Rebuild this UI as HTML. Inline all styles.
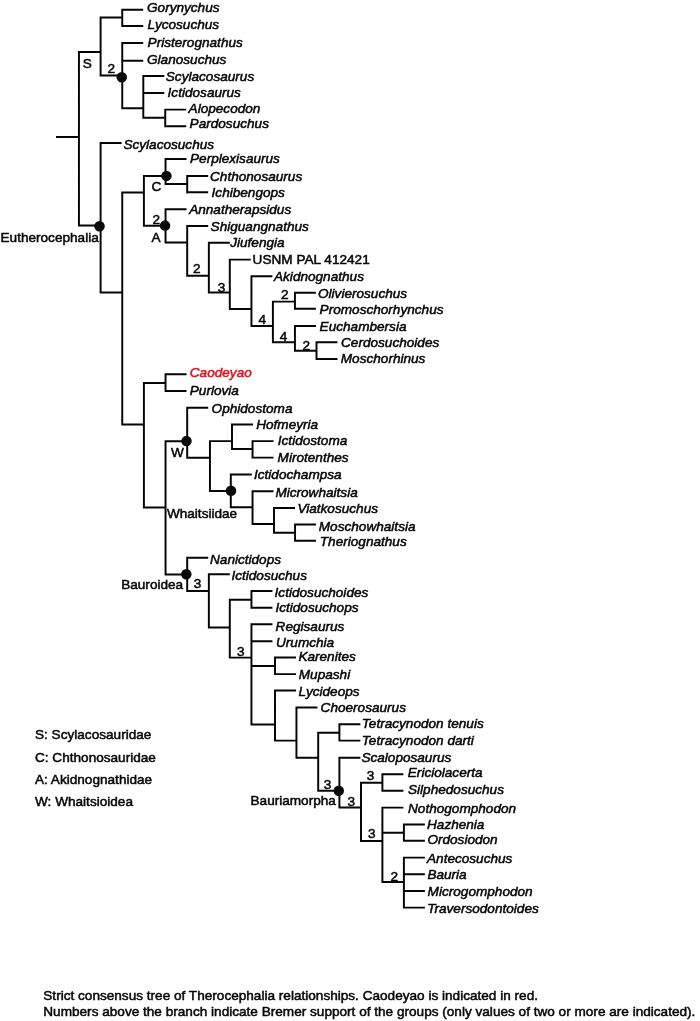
<!DOCTYPE html>
<html lang="en"><head><meta charset="utf-8"><title>Strict consensus tree of Therocephalia</title>
<style>html,body{margin:0;padding:0;background:#fff}svg{display:block}svg{filter:blur(0.35px)}text{font-family:"Liberation Sans",Arial,Helvetica,sans-serif;fill:#050505;stroke:#050505;stroke-width:.5px;paint-order:stroke}.i{font-style:italic}.l{stroke:#050505;stroke-width:1.95;stroke-linecap:square;fill:none}</style></head><body>
<svg width="700" height="1021" viewBox="0 0 700 1021">
<rect width="700" height="1021" fill="#fff"/>
<path class="l" d="M57 137L78.95 137M78.95 52L78.95 225.5M78.95 52L100.6 52M100.6 17.5L100.6 75.5M100.6 17.5L122.25 17.5M122.25 9.8L122.25 26M122.25 9.8L142.25 9.8M122.25 26L142.25 26M100.6 75.5L122.25 75.5M122.25 43L122.25 108.2M122.25 43L142.25 43M122.25 60.8L142.25 60.8M122.25 108.2L143.3 108.2M143.3 76L143.3 117.7M143.3 76L163.3 76M143.3 93L163.3 93M143.3 117.7L165.25 117.7M165.25 109.6L165.25 126.2M165.25 109.6L185.25 109.6M165.25 126.2L185.25 126.2M78.95 225.5L100.6 225.5M100.6 143L100.6 292.5M100.6 143L120.6 143M100.6 292.5L122.25 292.5M122.25 192.5L122.25 424.5M122.25 192.5L143.9 192.5M143.9 176L143.9 225.7M143.9 176L165.55 176M165.55 159L165.55 184M165.55 159L185.55 159M165.55 184L187.2 184M187.2 176L187.2 192.4M187.2 176L207.2 176M187.2 192.3L207.2 192.3M143.9 225.7L165.55 225.7M165.55 209.3L165.55 242.4M165.55 209.3L185.55 209.3M165.55 242.4L187.2 242.4M187.2 226L187.2 275.8M187.2 226L207.2 226M187.2 275.8L208.85 275.8M208.85 242.8L208.85 292.4M208.85 242.8L228.85 242.8M208.85 292.4L229.8 292.4M229.8 259.6L229.8 308.9M229.8 259.6L249.8 259.6M229.8 308.9L251.45 308.9M251.45 276.2L251.45 326M251.45 276.2L271.45 276.2M251.45 326L272.9 326M272.9 301.6L272.9 342.3M272.9 301.6L294.95 301.6M294.95 292.7L294.95 308.8M294.95 292.7L314.95 292.7M294.95 308.8L314.95 308.8M272.9 342.3L294.95 342.3M294.95 326L294.95 350.7M294.95 326L314.95 326M294.95 350.7L316.5 350.7M316.5 342.3L316.5 358.9M316.5 342.3L336.5 342.3M316.5 358.9L336.5 358.9M122.25 424.5L143.9 424.5M143.9 383L143.9 507.5M143.9 383L165.55 383M165.55 374.3L165.55 391M165.55 374.3L185.55 374.3M165.55 391L185.55 391M143.9 507.5L165.55 507.5M165.55 441.25L165.55 574.5M165.55 441.25L187.2 441.25M187.2 407.8L187.2 457.8M187.2 407.8L207.2 407.8M187.2 457.8L209.95 457.8M209.95 441.1L209.95 490.9M209.95 441.1L232 441.1M232 424.4L232 448.9M232 424.4L252 424.4M232 448.9L252.55 448.9M252.55 441.1L252.55 457.6M252.55 441.1L272.55 441.1M252.55 457.6L272.55 457.6M209.95 490.9L230.8 490.9M230.8 474.4L230.8 507.3M230.8 474.4L250.8 474.4M230.8 507.3L252.55 507.3M252.55 491.3L252.55 523.9M252.55 491.3L272.55 491.3M252.55 523.9L274 523.9M274 508L274 532.7M274 508L294 508M274 532.7L295.05 532.7M295.05 524.4L295.05 540.8M295.05 524.4L315.05 524.4M295.05 540.8L315.05 540.8M165.55 574.4L187.2 574.4M187.2 557.8L187.2 591M187.2 557.8L207.2 557.8M187.2 591L208.85 591M208.85 574.2L208.85 627.5M208.85 574.2L228.85 574.2M208.85 627.5L229.8 627.5M229.8 599.8L229.8 657.6M229.8 599.8L251.45 599.8M251.45 591L251.45 607.8M251.45 591L271.45 591M251.45 607.8L271.45 607.8M229.8 657.6L251.45 657.6M251.45 624.3L251.45 724.4M251.45 624.3L271.45 624.3M251.45 641.2L271.45 641.2M251.45 665.9L275 665.9M275 657.5L275 674.1M275 657.5L295 657.5M275 674.1L295 674.1M251.45 724.4L275 724.4M275 690.5L275 740.6M275 690.5L295 690.5M275 740.6L296.45 740.6M296.45 707.4L296.45 757.7M296.45 707.4L316.45 707.4M296.45 757.7L318.2 757.7M318.2 732.8L318.2 790.8M318.2 732.8L339.4 732.8M339.4 724.2L339.4 740.6M339.4 724.2L359.4 724.2M339.4 740.6L359.4 740.6M318.2 790.8L339.4 790.8M339.4 757.8L339.4 807.4M339.4 757.8L359.4 757.8M339.4 807.4L361 807.4M361 782.8L361 840.9M361 782.8L382.4 782.8M382.4 774.3L382.4 790.8M382.4 774.3L402.4 774.3M382.4 790.8L402.4 790.8M361 840.9L382.4 840.9M382.4 807.6L382.4 882M382.4 807.6L402.4 807.6M382.4 832.8L403.9 832.8M403.9 824.4L403.9 840.8M403.9 824.4L423.9 824.4M403.9 840.8L423.9 840.8M382.4 882L403.9 882M403.9 857.6L403.9 907.6M403.9 857.6L423.9 857.6M403.9 874.2L423.9 874.2M403.9 891L423.9 891M403.9 907.6L423.9 907.6"/>
<circle cx="121.75" cy="77.2" r="5.25" fill="#0a0a0a"/>
<circle cx="99.5" cy="226.3" r="5.25" fill="#0a0a0a"/>
<circle cx="166.45" cy="175.9" r="5.25" fill="#0a0a0a"/>
<circle cx="165.05" cy="225.6" r="5.25" fill="#0a0a0a"/>
<circle cx="186.5" cy="441.1" r="5.25" fill="#0a0a0a"/>
<circle cx="231" cy="490.8" r="5.25" fill="#0a0a0a"/>
<circle cx="186.3" cy="574.2" r="5.25" fill="#0a0a0a"/>
<circle cx="338.75" cy="790.8" r="5.25" fill="#0a0a0a"/>
<text x="147" y="11.5" font-size="13.6" class="i">Gorynychus</text>
<text x="147.6" y="29" font-size="13.6" class="i">Lycosuchus</text>
<text x="147.6" y="47" font-size="13.6" class="i">Pristerognathus</text>
<text x="147" y="64.3" font-size="13.6" class="i">Glanosuchus</text>
<text x="165.8" y="81.2" font-size="13.6" class="i">Scylacosaurus</text>
<text x="167.6" y="97.4" font-size="13.6" class="i">Ictidosaurus</text>
<text x="188.6" y="113" font-size="13.6" class="i">Alopecodon</text>
<text x="189.6" y="128.4" font-size="13.6" class="i">Pardosuchus</text>
<text x="123.4" y="148.7" font-size="13.6" class="i">Scylacosuchus</text>
<text x="190" y="163" font-size="13.6" class="i">Perplexisaurus</text>
<text x="210" y="180.8" font-size="13.6" class="i">Chthonosaurus</text>
<text x="211.6" y="197" font-size="13.6" class="i">Ichibengops</text>
<text x="189.2" y="213.7" font-size="13.6" class="i">Annatherapsidus</text>
<text x="210.6" y="230.8" font-size="13.6" class="i">Shiguangnathus</text>
<text x="230.2" y="246.6" font-size="13.6" class="i">Jiufengia</text>
<text x="252.6" y="264.4" font-size="13.6">USNM PAL 412421</text>
<text x="274" y="280.8" font-size="13.6" class="i">Akidnognathus</text>
<text x="318" y="297.8" font-size="13.6" class="i">Olivierosuchus</text>
<text x="319.6" y="313.6" font-size="13.6" class="i">Promoschorhynchus</text>
<text x="319.6" y="331" font-size="13.6" class="i">Euchambersia</text>
<text x="341" y="346.8" font-size="13.6" class="i">Cerdosuchoides</text>
<text x="340.8" y="363.4" font-size="13.6" class="i">Moschorhinus</text>
<text x="189.8" y="377" font-size="13.6" class="i" style="fill:#e3101c;stroke:#e3101c">Caodeyao</text>
<text x="189.8" y="395.4" font-size="13.6" class="i">Purlovia</text>
<text x="211.6" y="413.2" font-size="13.6" class="i">Ophidostoma</text>
<text x="256.2" y="429" font-size="13.6" class="i">Hofmeyria</text>
<text x="277.8" y="444.8" font-size="13.6" class="i">Ictidostoma</text>
<text x="277.6" y="462.4" font-size="13.6" class="i">Mirotenthes</text>
<text x="254" y="479" font-size="13.6" class="i">Ictidochampsa</text>
<text x="275.4" y="496.8" font-size="13.6" class="i">Microwhaitsia</text>
<text x="297.4" y="512.6" font-size="13.6" class="i">Viatkosuchus</text>
<text x="318.8" y="530.6" font-size="13.6" class="i">Moschowhaitsia</text>
<text x="319.8" y="546" font-size="13.6" class="i">Theriognathus</text>
<text x="210" y="564.4" font-size="13.6" class="i">Nanictidops</text>
<text x="231.4" y="580" font-size="13.6" class="i">Ictidosuchus</text>
<text x="274.6" y="596.7" font-size="13.6" class="i">Ictidosuchoides</text>
<text x="275.4" y="611.8" font-size="13.6" class="i">Ictidosuchops</text>
<text x="275.6" y="631.4" font-size="13.6" class="i">Regisaurus</text>
<text x="276" y="646.8" font-size="13.6" class="i">Urumchia</text>
<text x="298.4" y="660.8" font-size="13.6" class="i">Karenites</text>
<text x="298.8" y="679.4" font-size="13.6" class="i">Mupashi</text>
<text x="298.6" y="696.4" font-size="13.6" class="i">Lycideops</text>
<text x="320.6" y="712.4" font-size="13.6" class="i">Choerosaurus</text>
<text x="361.8" y="727.8" font-size="13.6" class="i">Tetracynodon tenuis</text>
<text x="361.8" y="744.8" font-size="13.6" class="i">Tetracynodon darti</text>
<text x="361.4" y="762.4" font-size="13.6" class="i">Scaloposaurus</text>
<text x="407.8" y="777.2" font-size="13.6" class="i">Ericiolacerta</text>
<text x="408" y="794" font-size="13.6" class="i">Silphedosuchus</text>
<text x="408" y="812.6" font-size="13.6" class="i">Nothogomphodon</text>
<text x="427" y="828.6" font-size="13.6" class="i">Hazhenia</text>
<text x="427.4" y="844" font-size="13.6" class="i">Ordosiodon</text>
<text x="427" y="862.8" font-size="13.6" class="i">Antecosuchus</text>
<text x="427.4" y="878.6" font-size="13.6" class="i">Bauria</text>
<text x="427.6" y="895.6" font-size="13.6" class="i">Microgomphodon</text>
<text x="427.2" y="912.7" font-size="13.6" class="i">Traversodontoides</text>
<text x="82.7" y="67.7" font-size="13.6">S</text>
<text x="107.4" y="73" font-size="13.6">2</text>
<text x="151.5" y="190.7" font-size="13.6">C</text>
<text x="152.5" y="223.5" font-size="13.6">2</text>
<text x="151.5" y="242" font-size="13.6">A</text>
<text x="193" y="272.8" font-size="13.6">2</text>
<text x="217.8" y="291.6" font-size="13.6">3</text>
<text x="258.4" y="323.8" font-size="13.6">4</text>
<text x="281" y="299" font-size="13.6">2</text>
<text x="279.8" y="341.4" font-size="13.6">4</text>
<text x="302.6" y="350" font-size="13.6">2</text>
<text x="171" y="457.4" font-size="13.6">W</text>
<text x="166.9" y="517.8" font-size="13.6">Whaitsiidae</text>
<text x="121.2" y="589.1" font-size="13.6">Bauroidea</text>
<text x="193.8" y="588.3" font-size="13.6">3</text>
<text x="237" y="655.5" font-size="13.6">3</text>
<text x="250.5" y="805.4" font-size="13.6">Bauriamorpha</text>
<text x="323.8" y="789.2" font-size="13.6">3</text>
<text x="347.6" y="806" font-size="13.6">3</text>
<text x="366.7" y="780" font-size="13.6">3</text>
<text x="368" y="838.4" font-size="13.6">3</text>
<text x="390.6" y="881" font-size="13.6">2</text>
<text x="0.5" y="241.6" font-size="13.6">Eutherocephalia</text>
<text x="35" y="739" font-size="13.6">S: Scylacosauridae</text>
<text x="35" y="762.2" font-size="13.6">C: Chthonosauridae</text>
<text x="35" y="784.3" font-size="13.6">A: Akidnognathidae</text>
<text x="35" y="806" font-size="13.6">W: Whaitsioidea</text>
<text x="43.3" y="1000" font-size="13.6">Strict consensus tree of Therocephalia relationships. Caodeyao is indicated in red.</text>
<text x="43.3" y="1016" font-size="13.6">Numbers above the branch indicate Bremer support of the groups (only values of two or more are indicated).</text>
</svg></body></html>
